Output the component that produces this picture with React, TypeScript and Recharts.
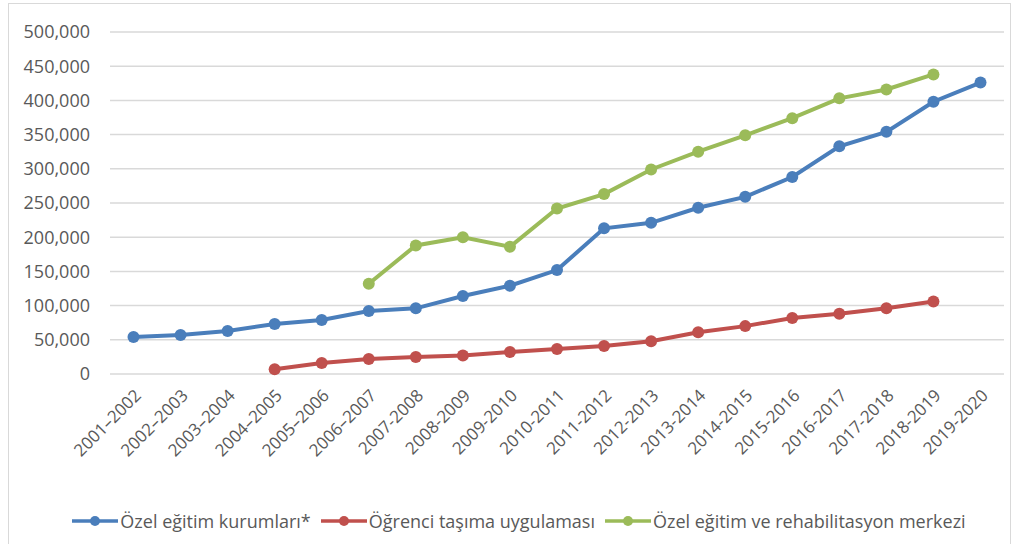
import { LineChart, Line, XAxis, YAxis, CartesianGrid, Legend } from 'recharts'

const years = [
  '2001–2002', '2002–2003', '2003–2004', '2004–2005', '2005–2006', '2006–2007',
  '2007-2008', '2008-2009', '2009-2010', '2010-2011', '2011-2012', '2012-2013',
  '2013-2014', '2014-2015', '2015-2016', '2016-2017', '2017-2018', '2018-2019', '2019-2020',
]

const kurumlar = [
  54000, 57000, 63000, 73000, 79000, 92000, 96000, 114000, 129000, 152000,
  213000, 221000, 243000, 259000, 288000, 333000, 354000, 398000, 426000,
]

const tasima = [
  null, null, null, 7000, 16000, 22000, 25000, 27000, 32000, 36500,
  41000, 48000, 61000, 70000, 82000, 88000, 96000, 106000, null,
]

const rehabilitasyon = [
  null, null, null, null, null, 132000, 188000, 200000, 186000, 242000,
  263000, 299000, 325000, 349000, 374000, 403000, 416000, 438000, null,
]

const yTicks = [0, 50000, 100000, 150000, 200000, 250000, 300000, 350000, 400000, 450000, 500000]

const FONT = "'Open Sans', sans-serif"
const TEXT = '#595959'

const data = years.map((y, i) => ({
  year: y,
  a: kurumlar[i],
  b: tasima[i],
  c: rehabilitasyon[i],
}))

function LegendContent({ payload }: any) {
  return (
    <div style={{ display: 'flex', justifyContent: 'center', alignItems: 'center', fontFamily: FONT, fontSize: 18, color: TEXT, paddingLeft: 44, height: 26 }}>
      {(payload || []).map((p: any) => (
        <div key={p.value} style={{ display: 'flex', alignItems: 'center', marginRight: 10 }}>
          <svg width={46} height={14} style={{ marginRight: 2 }}>
            <line x1={0} y1={7} x2={46} y2={7} stroke={p.color} strokeWidth={3.5} />
            <circle cx={23} cy={7} r={5} fill={p.color} />
          </svg>
          <span>{p.value}</span>
        </div>
      ))}
    </div>
  )
}

export default function App() {
  return (
    <div style={{ position: 'absolute', left: 0, top: 0, width: 1022, height: 544, background: '#fff', overflow: 'hidden' }}>
      <div style={{ position: 'absolute', left: 8, top: 3, width: 1001, height: 600, border: '1px solid #d9d9d9' }} />
      <div style={{ position: 'absolute', left: 0, top: 0 }}>
        <LineChart width={1022} height={544} data={data} margin={{ top: 32, right: 18, left: 0, bottom: 10 }}>
          <CartesianGrid vertical={false} stroke="#d9d9d9" strokeWidth={1.5} />
          <XAxis
            dataKey="year"
            axisLine={false}
            tickLine={false}
            tickSize={0}
            tickMargin={14}
            interval={0}
            height={134}
            padding={{ left: 23.5, right: 23.5 }}
            angle={-45}
            textAnchor="end"
            tick={{ fill: TEXT, fontSize: 17, fontFamily: FONT }}
          />
          <YAxis
            width={110}
            domain={[0, 500000]}
            ticks={yTicks}
            axisLine={false}
            tickLine={false}
            tickSize={0}
            tickMargin={20}
            tickFormatter={(v: number) => v.toLocaleString('en-US')}
            tick={{ fill: TEXT, fontSize: 18, fontFamily: FONT }}
          />
          <Legend verticalAlign="bottom" itemSorter="dataKey" content={<LegendContent />} />
          <Line dataKey="a" name="Özel eğitim kurumları*" stroke="#4a7ebb" strokeWidth={4} dot={{ r: 6, fill: '#4a7ebb', stroke: 'none' }} isAnimationActive={false} />
          <Line dataKey="b" name="Öğrenci taşıma uygulaması" stroke="#c0504d" strokeWidth={4} dot={{ r: 6, fill: '#c0504d', stroke: 'none' }} isAnimationActive={false} />
          <Line dataKey="c" name="Özel eğitim ve rehabilitasyon merkezi" stroke="#9bbb59" strokeWidth={4} dot={{ r: 6, fill: '#9bbb59', stroke: 'none' }} isAnimationActive={false} />
        </LineChart>
      </div>
    </div>
  )
}
